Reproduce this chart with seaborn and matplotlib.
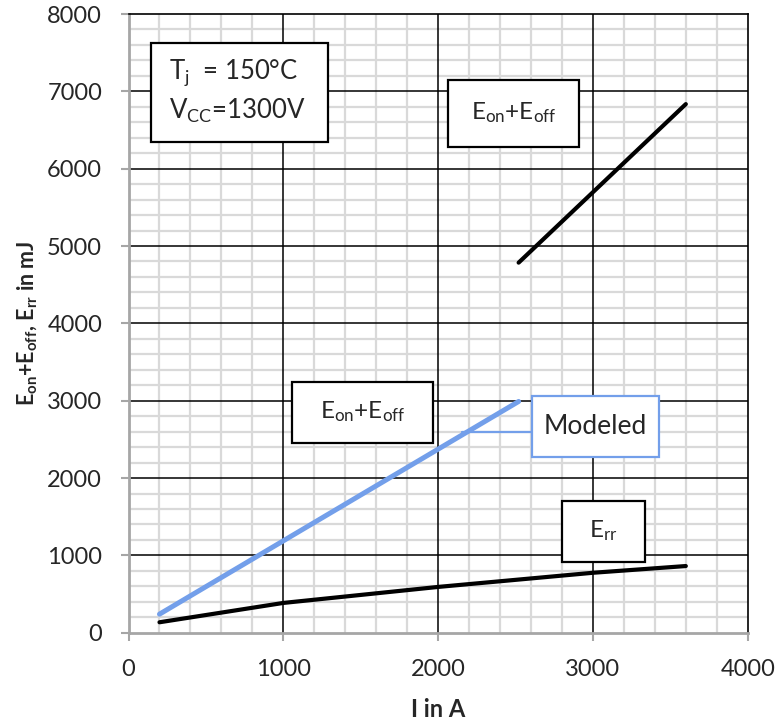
import matplotlib
matplotlib.use("Agg")
import matplotlib.pyplot as plt
from matplotlib.patches import Rectangle
from matplotlib.lines import Line2D
from matplotlib.ticker import MultipleLocator
import numpy as np
import pandas as pd
import seaborn as sns

# Switching energy data (current in A, energy in mJ)
eon_eoff_current = [2520, 3600]
eon_eoff_energy = [4785, 6835]

modeled_current = [200, 2520]
modeled_energy = [240, 2990]

err_current = [200, 1000, 2000, 3000, 3600]
err_energy = [135, 385, 592, 775, 862]

x_ticks = [0, 1000, 2000, 3000, 4000]
y_ticks = [0, 1000, 2000, 3000, 4000, 5000, 6000, 7000, 8000]

sns.set_theme(style="white")
plt.rcParams["font.family"] = ["Lato", "DejaVu Sans"]
plt.rcParams["mathtext.fontset"] = "custom"
plt.rcParams["mathtext.rm"] = "Lato"
plt.rcParams["mathtext.it"] = "Lato"
plt.rcParams["mathtext.bf"] = "Lato:bold"

BLUE = "#739fea"
GRAY = "#a6a6a6"

fig = plt.figure(figsize=(7.78, 7.26), dpi=100)
ax = fig.add_axes([0.1652, 0.1285, 0.7959, 0.8522])

df_hi = pd.DataFrame({"I": eon_eoff_current, "E": eon_eoff_energy})
df_mod = pd.DataFrame({"I": modeled_current, "E": modeled_energy})
df_rr = pd.DataFrame({"I": err_current, "E": err_energy})

sns.lineplot(data=df_hi, x="I", y="E", ax=ax, color="black", lw=3.0,
             solid_capstyle="round", zorder=4)
sns.lineplot(data=df_mod, x="I", y="E", ax=ax, color=BLUE, lw=3.6,
             solid_capstyle="round", zorder=4)
sns.lineplot(data=df_rr, x="I", y="E", ax=ax, color="black", lw=3.0,
             solid_capstyle="round", zorder=4)

ax.set_xlim(x_ticks[0], x_ticks[-1])
ax.set_ylim(y_ticks[0], y_ticks[-1])
ax.set_xticks(x_ticks)
ax.set_yticks(y_ticks)
ax.xaxis.set_minor_locator(MultipleLocator(200))
ax.yaxis.set_minor_locator(MultipleLocator(200))

# light minor grid behind, black major grid on top of it
ax.set_axisbelow(True)
ax.grid(which="minor", color="#d9d9d9", lw=1.6)
ax.grid(which="major", visible=False)
for xv in x_ticks[1:-1]:
    ax.axvline(xv, color="black", lw=1.1, zorder=1)
for yv in y_ticks[1:-1]:
    ax.axhline(yv, color="black", lw=1.1, zorder=1)

for side in ("left", "bottom"):
    ax.spines[side].set_color(GRAY)
    ax.spines[side].set_linewidth(2.0)
for side in ("top", "right"):
    ax.spines[side].set_color("black")
    ax.spines[side].set_linewidth(1.2)

ax.tick_params(axis="both", which="major", direction="out", length=6,
               width=1.5, color=GRAY, labelsize=17, pad=13,
               left=True, bottom=True)
ax.tick_params(axis="both", which="minor", length=0)

ax.set_xlabel("I in A", fontsize=17, fontweight="bold")
ax.set_ylabel(r"E$_\mathbf{on}$+E$_\mathbf{off}$, E$_\mathbf{rr}$ in mJ",
              fontsize=15.5, fontweight="bold")
ax.xaxis.set_label_coords(0.5, -0.106)
ax.yaxis.set_label_coords(-0.145, 0.5)


def box(x0, y0, x1, y1, edge="black"):
    ax.add_patch(Rectangle((x0, y0), x1 - x0, y1 - y0, transform=ax.transAxes,
                           facecolor="white", edgecolor=edge, lw=1.6, zorder=5))


# Operating conditions
box(0.0363, 0.7936, 0.3222, 0.9536)
ax.text(0.066, 0.905, r"T$_\mathrm{j}$  = 150°C", transform=ax.transAxes,
        fontsize=18.5, va="center", ha="left", zorder=6)
ax.text(0.066, 0.843, r"V$_\mathrm{CC}$=1300V", transform=ax.transAxes,
        fontsize=18.5, va="center", ha="left", zorder=6)

# Curve labels
box(0.5165, 0.7855, 0.7276, 0.8933)
ax.text(0.622, 0.840, r"E$_\mathrm{on}$+E$_\mathrm{off}$", transform=ax.transAxes,
        fontsize=17.5, va="center", ha="center", zorder=6)

box(0.2645, 0.3071, 0.4922, 0.4057)
ax.text(0.378, 0.357, r"E$_\mathrm{on}$+E$_\mathrm{off}$", transform=ax.transAxes,
        fontsize=17.5, va="center", ha="center", zorder=6)

ax.add_line(Line2D([0.5381, 0.6521], [0.3249, 0.3249], transform=ax.transAxes,
                   color=BLUE, lw=1.6, zorder=5))
box(0.6521, 0.2835, 0.8567, 0.3831, edge=BLUE)
ax.text(0.7544, 0.333, "Modeled", transform=ax.transAxes,
        fontsize=19, va="center", ha="center", zorder=6)

box(0.7006, 0.1138, 0.8337, 0.2134)
ax.text(0.767, 0.165, r"E$_\mathrm{rr}$", transform=ax.transAxes,
        fontsize=17.5, va="center", ha="center", zorder=6)

fig.savefig("out.png", dpi=100)
